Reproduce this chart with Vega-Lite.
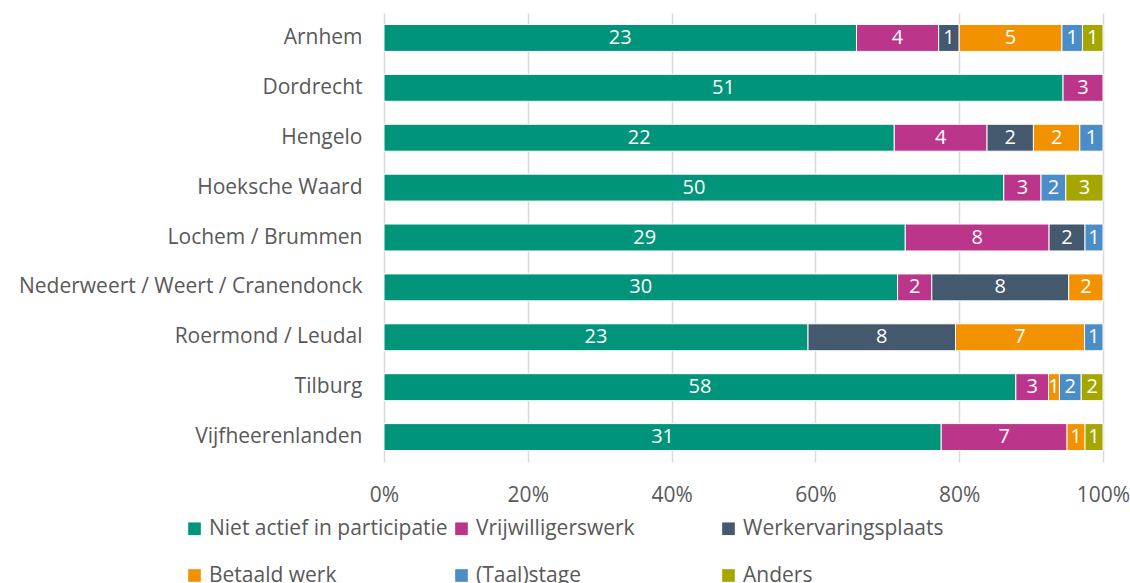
{
  "$schema": "https://vega.github.io/schema/vega-lite/v6.json",
  "autosize": "none",
  "width": 719,
  "height": 449,
  "padding": {"left": 384, "top": 13, "right": 27, "bottom": 121},
  "background": "white",
  "config": {
    "font": "Open Sans",
    "view": {"stroke": null},
    "axis": {"labelColor": "#595959", "labelFont": "Open Sans", "labelFontSize": 21, "titleColor": "#595959"},
    "legend": {"labelColor": "#595959", "labelFont": "Open Sans", "labelFontSize": 21}
  },
  "data": {
    "values": [
      {"g": "Arnhem", "c": "Niet actief in participatie", "k": 1, "n": 23},
      {"g": "Arnhem", "c": "Vrijwilligerswerk", "k": 2, "n": 4},
      {"g": "Arnhem", "c": "Werkervaringsplaats", "k": 3, "n": 1},
      {"g": "Arnhem", "c": "Betaald werk", "k": 4, "n": 5},
      {"g": "Arnhem", "c": "(Taal)stage", "k": 5, "n": 1},
      {"g": "Arnhem", "c": "Anders", "k": 6, "n": 1},
      {"g": "Dordrecht", "c": "Niet actief in participatie", "k": 1, "n": 51},
      {"g": "Dordrecht", "c": "Vrijwilligerswerk", "k": 2, "n": 3},
      {"g": "Hengelo", "c": "Niet actief in participatie", "k": 1, "n": 22},
      {"g": "Hengelo", "c": "Vrijwilligerswerk", "k": 2, "n": 4},
      {"g": "Hengelo", "c": "Werkervaringsplaats", "k": 3, "n": 2},
      {"g": "Hengelo", "c": "Betaald werk", "k": 4, "n": 2},
      {"g": "Hengelo", "c": "(Taal)stage", "k": 5, "n": 1},
      {"g": "Hoeksche Waard", "c": "Niet actief in participatie", "k": 1, "n": 50},
      {"g": "Hoeksche Waard", "c": "Vrijwilligerswerk", "k": 2, "n": 3},
      {"g": "Hoeksche Waard", "c": "(Taal)stage", "k": 5, "n": 2},
      {"g": "Hoeksche Waard", "c": "Anders", "k": 6, "n": 3},
      {"g": "Lochem / Brummen", "c": "Niet actief in participatie", "k": 1, "n": 29},
      {"g": "Lochem / Brummen", "c": "Vrijwilligerswerk", "k": 2, "n": 8},
      {"g": "Lochem / Brummen", "c": "Werkervaringsplaats", "k": 3, "n": 2},
      {"g": "Lochem / Brummen", "c": "(Taal)stage", "k": 5, "n": 1},
      {"g": "Nederweert / Weert / Cranendonck", "c": "Niet actief in participatie", "k": 1, "n": 30},
      {"g": "Nederweert / Weert / Cranendonck", "c": "Vrijwilligerswerk", "k": 2, "n": 2},
      {"g": "Nederweert / Weert / Cranendonck", "c": "Werkervaringsplaats", "k": 3, "n": 8},
      {"g": "Nederweert / Weert / Cranendonck", "c": "Betaald werk", "k": 4, "n": 2},
      {"g": "Roermond / Leudal", "c": "Niet actief in participatie", "k": 1, "n": 23},
      {"g": "Roermond / Leudal", "c": "Werkervaringsplaats", "k": 3, "n": 8},
      {"g": "Roermond / Leudal", "c": "Betaald werk", "k": 4, "n": 7},
      {"g": "Roermond / Leudal", "c": "(Taal)stage", "k": 5, "n": 1},
      {"g": "Tilburg", "c": "Niet actief in participatie", "k": 1, "n": 58},
      {"g": "Tilburg", "c": "Vrijwilligerswerk", "k": 2, "n": 3},
      {"g": "Tilburg", "c": "Betaald werk", "k": 4, "n": 1},
      {"g": "Tilburg", "c": "(Taal)stage", "k": 5, "n": 2},
      {"g": "Tilburg", "c": "Anders", "k": 6, "n": 2},
      {"g": "Vijfheerenlanden", "c": "Niet actief in participatie", "k": 1, "n": 31},
      {"g": "Vijfheerenlanden", "c": "Vrijwilligerswerk", "k": 2, "n": 7},
      {"g": "Vijfheerenlanden", "c": "Betaald werk", "k": 4, "n": 1},
      {"g": "Vijfheerenlanden", "c": "Anders", "k": 6, "n": 1}
    ]
  },
  "encoding": {
    "y": {
      "field": "g",
      "type": "nominal",
      "sort": ["Arnhem", "Dordrecht", "Hengelo", "Hoeksche Waard", "Lochem / Brummen", "Nederweert / Weert / Cranendonck", "Roermond / Leudal", "Tilburg", "Vijfheerenlanden"],
      "scale": {"paddingInner": 0.46, "paddingOuter": 0.23},
      "axis": {"title": null, "ticks": false, "domain": false, "labelPadding": 22, "labelLimit": 400}
    }
  },
  "layer": [
    {
      "mark": {"type": "bar", "stroke": "white", "strokeWidth": 1},
      "encoding": {
        "x": {
          "field": "n",
          "type": "quantitative",
          "stack": "normalize",
          "scale": {"domain": [0, 1]},
          "axis": {
            "title": null,
            "format": "%",
            "values": [0, 0.2, 0.4, 0.6, 0.8, 1],
            "grid": true,
            "gridColor": "#D9D9D9",
            "gridWidth": 1.5,
            "domain": false,
            "ticks": false,
            "labelFlush": false,
            "labelPadding": 22
          }
        },
        "color": {
          "field": "c",
          "type": "nominal",
          "scale": {
            "domain": ["Niet actief in participatie", "Vrijwilligerswerk", "Werkervaringsplaats", "Betaald werk", "(Taal)stage", "Anders"],
            "range": ["#00957A", "#BB358B", "#44586E", "#F39200", "#4B8DC7", "#A5A700"]
          },
          "legend": {
            "title": null,
            "orient": "none",
            "legendX": -200,
            "legendY": 505,
            "direction": "horizontal",
            "columns": 3,
            "gridAlign": "all",
            "columnPadding": 3,
            "rowPadding": 25,
            "symbolType": "square",
            "symbolSize": 160,
            "symbolOpacity": 1,
            "symbolStrokeWidth": 0,
            "labelOffset": 4,
            "padding": 0,
            "labelLimit": 400
          }
        },
        "order": {"field": "k", "type": "quantitative"}
      }
    },
    {
      "mark": {"type": "text", "color": "white", "fontSize": 20, "font": "Open Sans", "baseline": "middle", "align": "center"},
      "encoding": {
        "x": {"field": "n", "type": "quantitative", "stack": "normalize", "bandPosition": 0.5},
        "detail": {"field": "c", "type": "nominal"},
        "order": {"field": "k", "type": "quantitative"},
        "text": {"field": "n", "type": "quantitative"}
      }
    }
  ]
}
